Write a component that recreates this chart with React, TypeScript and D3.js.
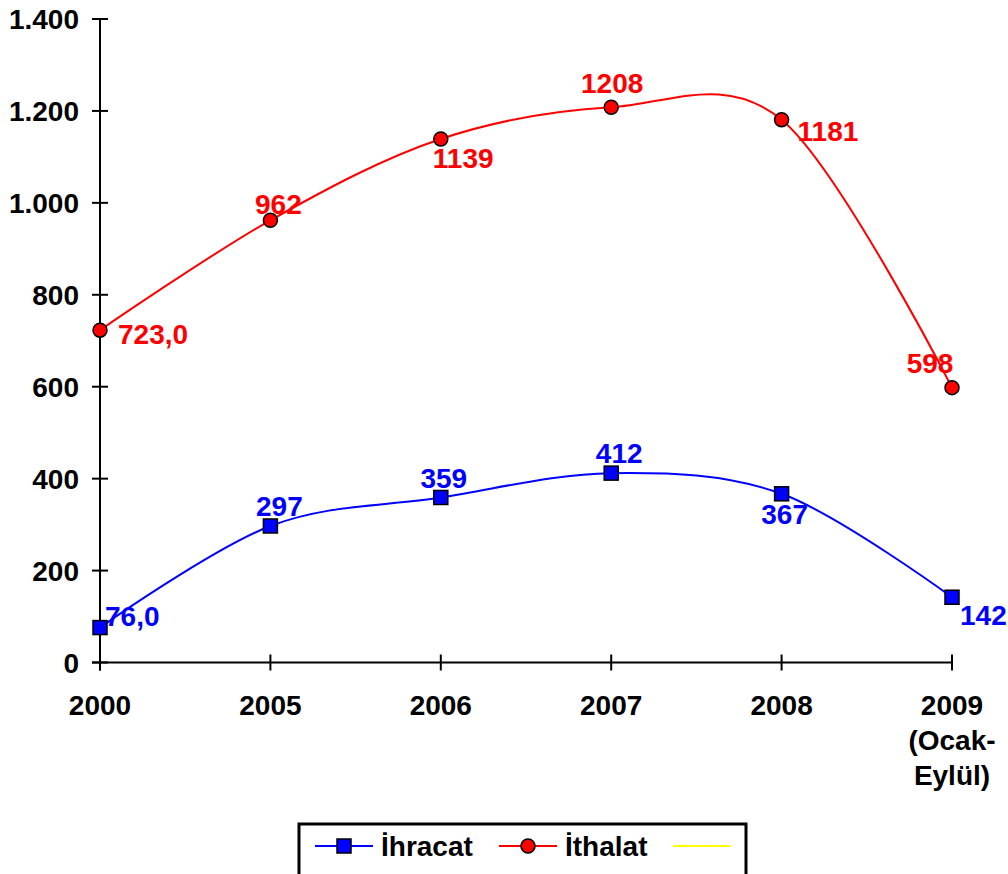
import React, { useEffect, useRef } from "react";
import * as d3 from "d3";

const categories = ["2000", "2005", "2006", "2007", "2008", "2009"];
const categoryNotes = ["", "", "", "", "", "(Ocak-|Eylül)"];
const ihracat = [76, 297, 359, 412, 367, 142];
const ithalat = [723, 962, 1139, 1208, 1181, 598];
const ihracatLabels = ["76,0", "297", "359", "412", "367", "142"];
const ithalatLabels = ["723,0", "962", "1139", "1208", "1181", "598"];
const yTicks = [0, 200, 400, 600, 800, 1000, 1200, 1400];

// label placement relative to the marker: [dx, dy, anchor]
const ihracatPlace: [number, number, string][] = [
  [5, -2, "start"],
  [9, -10, "middle"],
  [3, -9, "middle"],
  [8, -10, "middle"],
  [3, 30, "middle"],
  [8, 28, "start"],
];
const ithalatPlace: [number, number, string][] = [
  [18, 14, "start"],
  [8, -6, "middle"],
  [-8, 29, "start"],
  [1, -14, "middle"],
  [16, 21, "start"],
  [-22, -15, "middle"],
];

const W = 1008;
const H = 874;

export default function App() {
  const ref = useRef<SVGSVGElement | null>(null);

  useEffect(() => {
    const svg = d3.select(ref.current);
    svg.selectAll("*").remove();

    const font = "'Liberation Sans', Arial, sans-serif";
    const fs = 28;
    const x = d3.scalePoint<string>().domain(categories).range([100, 952]);
    const y = d3.scaleLinear().domain([0, 1400]).range([662.5, 19]);
    const fmt = d3.formatLocale({
      decimal: ",",
      thousands: ".",
      grouping: [3],
      currency: ["", ""],
    }).format(",d");

    // axes
    const ax = svg.append("g").attr("stroke", "#000").attr("stroke-width", 2);
    ax.append("line").attr("x1", 100).attr("x2", 100).attr("y1", y(1400)).attr("y2", y(0) + 8);
    ax.append("line").attr("x1", 92).attr("x2", x("2009")!).attr("y1", y(0)).attr("y2", y(0));
    yTicks.forEach((t) => {
      ax.append("line").attr("x1", 92).attr("x2", 108).attr("y1", y(t)).attr("y2", y(t));
    });
    categories.forEach((c) => {
      ax.append("line").attr("x1", x(c)!).attr("x2", x(c)!).attr("y1", y(0) - 8).attr("y2", y(0) + 8);
    });

    svg
      .append("g")
      .selectAll("text")
      .data(yTicks)
      .join("text")
      .attr("x", 79)
      .attr("y", (d) => y(d) + 10)
      .attr("text-anchor", "end")
      .attr("font-family", font)
      .attr("font-weight", "bold")
      .attr("font-size", fs)
      .text((d) => fmt(d));

    const xl = svg.append("g");
    categories.forEach((c, i) => {
      xl.append("text")
        .attr("x", x(c)!)
        .attr("y", 715)
        .attr("text-anchor", "middle")
        .attr("font-family", font)
        .attr("font-weight", "bold")
        .attr("font-size", fs)
        .text(c);
      if (categoryNotes[i]) {
        categoryNotes[i].split("|").forEach((s, k) => {
          xl.append("text")
            .attr("x", x(c)!)
            .attr("y", 750 + k * 35)
            .attr("text-anchor", "middle")
            .attr("font-family", font)
            .attr("font-weight", "bold")
            .attr("font-size", fs)
            .text(s);
        });
      }
    });

    const line = d3
      .line<number>()
      .x((_, i) => x(categories[i])!)
      .y((d) => y(d))
      .curve(d3.curveCardinal.tension(0));

    const series = [
      { vals: ihracat, labels: ihracatLabels, place: ihracatPlace, color: "#0000ff", shape: "square" },
      { vals: ithalat, labels: ithalatLabels, place: ithalatPlace, color: "#ff0000", shape: "circle" },
    ];

    series.forEach((s) => {
      svg
        .append("path")
        .datum(s.vals)
        .attr("fill", "none")
        .attr("stroke", s.color)
        .attr("stroke-width", 2)
        .attr("d", line);

      s.vals.forEach((v, i) => {
        const cx = x(categories[i])!;
        const cy = y(v);
        if (s.shape === "square") {
          svg.append("rect")
            .attr("x", cx - 7).attr("y", cy - 7).attr("width", 14).attr("height", 14)
            .attr("fill", s.color).attr("stroke", "#000").attr("stroke-width", 1.5);
        } else {
          svg.append("circle")
            .attr("cx", cx).attr("cy", cy).attr("r", 7)
            .attr("fill", s.color).attr("stroke", "#000").attr("stroke-width", 1.5);
        }
      });

      s.vals.forEach((v, i) => {
        const [dx, dy, anchor] = s.place[i];
        svg.append("text")
          .attr("x", x(categories[i])! + dx)
          .attr("y", y(v) + dy)
          .attr("text-anchor", anchor)
          .attr("font-family", font)
          .attr("font-weight", "bold")
          .attr("font-size", fs)
          .attr("fill", s.color)
          .text(s.labels[i]);
      });
    });

    // legend
    const lg = svg.append("g");
    lg.append("rect")
      .attr("x", 299).attr("y", 824).attr("width", 447).attr("height", 80)
      .attr("fill", "#fff").attr("stroke", "#000").attr("stroke-width", 3);
    const ly = 846;
    const items = [
      { name: "İhracat", color: "#0000ff", shape: "square", x0: 315 },
      { name: "İthalat", color: "#ff0000", shape: "circle", x0: 499 },
      { name: "", color: "#ffff00", shape: "", x0: 673 },
    ];
    items.forEach((it) => {
      lg.append("line")
        .attr("x1", it.x0).attr("x2", it.x0 + 58).attr("y1", ly).attr("y2", ly)
        .attr("stroke", it.color).attr("stroke-width", 2);
      const mx = it.x0 + 29;
      if (it.shape === "square") {
        lg.append("rect")
          .attr("x", mx - 7).attr("y", ly - 7).attr("width", 14).attr("height", 14)
          .attr("fill", it.color).attr("stroke", "#000").attr("stroke-width", 1.5);
      } else if (it.shape === "circle") {
        lg.append("circle")
          .attr("cx", mx).attr("cy", ly).attr("r", 7)
          .attr("fill", it.color).attr("stroke", "#000").attr("stroke-width", 1.5);
      }
      if (it.name) {
        lg.append("text")
          .attr("x", it.x0 + 66).attr("y", ly + 10)
          .attr("font-family", font)
          .attr("font-weight", "bold")
          .attr("font-size", fs)
          .text(it.name);
      }
    });
  }, []);

  return (
    <div style={{ position: "absolute", left: 0, top: 0 }}>
      <svg ref={ref} width={W} height={H} style={{ display: "block", background: "#fff" }} />
    </div>
  );
}
